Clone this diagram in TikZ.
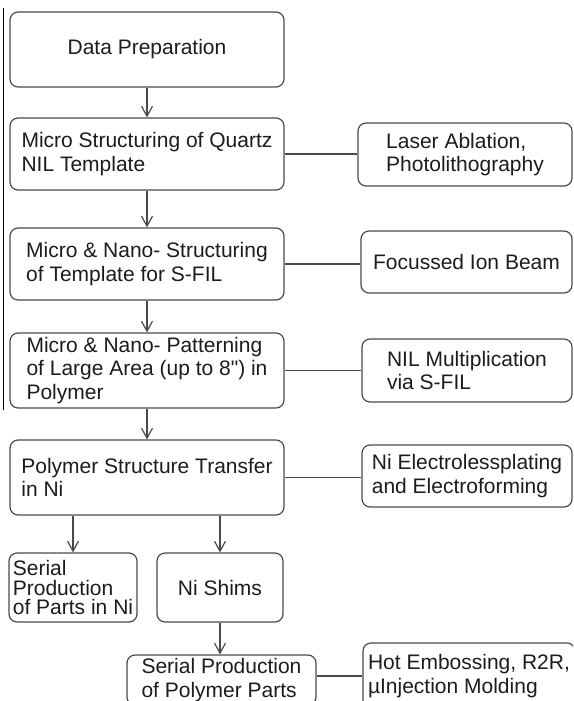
\documentclass[tikz,border=0pt]{standalone}
\usepackage{fontspec}
\setmainfont{Liberation Sans}[Ligatures=TeXOff]
\usetikzlibrary{positioning, arrows.meta, calc}
\definecolor{framegray}{HTML}{4A4A4A}
\definecolor{textgray}{HTML}{1C1C1C}
\tikzset{
    process/.style={draw=framegray, line width=1.2pt, rounded corners=8pt, align=left, text=textgray, inner sep=0pt, font=\fontsize{21}{23.5}\selectfont},
    method/.style={process},
    link/.style={framegray, line width=1.2pt},
    flow_arrow/.style={link, -{Straight Barb[length=10pt,width=11pt]}}
}

\begin{document}
\begin{tikzpicture}[x=1pt, y=-1pt]
      \clip (0,0) rectangle (573,701);

      % --- Main column ---
      \node (prep) [process, minimum width=274pt, minimum height=75pt] at (147,49.5) {Data Preparation};
      \node (quartz) [process, minimum width=274pt, minimum height=72pt] at (147,154) {Micro Structuring of Quartz\\NIL Template};
      \node (fil) [process, minimum width=274pt, minimum height=72pt] at (147,264) {Micro \& Nano- Structuring\\of Template for S-FIL};
      \node (pattern) [process, minimum width=274pt, minimum height=75pt] at (147,370.5) {Micro \& Nano- Patterning\\of Large Area (up to 8") in\\Polymer};
      \node (transfer) [process, minimum width=274pt, minimum height=75pt] at (147,477.5) {Polymer Structure Transfer\\in Ni};

      % --- Methods ---
      \node (laser) [method, minimum width=214pt, minimum height=63pt] at (465,154.5) {Laser Ablation,\\Photolithography};
      \node (fib) [method, minimum width=211pt, minimum height=62pt] at (466.5,262) {Focussed Ion Beam};
      \node (multi) [method, minimum width=210pt, minimum height=63pt] at (467,370.5) {NIL Multiplication\\via S-FIL};
      \node (plating) [method, minimum width=210pt, minimum height=62pt] at (467,476) {Ni Electrolessplating\\and Electroforming};

      % --- Products ---
      \node (serialni) [process, font=\fontsize{21}{19.5}\selectfont, minimum width=128pt, minimum height=69pt] at (73,587.5) {Serial\\Production\\of Parts in Ni};
      \node (shims) [process, minimum width=126pt, minimum height=69pt] at (220,587.5) {Ni Shims};
      \node (serialpoly) [process, minimum width=189pt, minimum height=50pt] at (221.5,680) {Serial Production\\of Polymer Parts};
      \node (embossing) [method, minimum width=212pt, minimum height=66pt] at (469,676) {Hot Embossing, R2R,\\µInjection Molding};

      % --- Flow ---
      \draw[flow_arrow] (prep) -- (quartz);
      \draw[flow_arrow] (quartz) -- (fil);
      \draw[flow_arrow] (fil) -- (pattern);
      \draw[flow_arrow] (pattern) -- (transfer);
      \draw[flow_arrow] (serialni.north |- transfer.south) -- (serialni.north);
      \draw[flow_arrow] (shims.north |- transfer.south) -- (shims.north);
      \draw[flow_arrow] (shims.south) -- (shims.south |- serialpoly.north);

      % --- Links to methods ---
      \draw[link] (quartz.east) -- (quartz.east -| laser.west);
      \draw[link] (fil.east) -- (fil.east -| fib.west);
      \draw[link] (pattern.east) -- (pattern.east -| multi.west);
      \draw[link] (transfer.east) -- (transfer.east -| plating.west);
      \draw[link] (embossing.west -| serialpoly.east) -- (embossing.west);

      % stray frame edge
      \coordinate (edgetop) at (3,8);
      \coordinate (edgebottom) at (3,410);
      \draw[black, line width=0.8pt] (edgetop) -- (edgebottom);
\end{tikzpicture}
\end{document}
